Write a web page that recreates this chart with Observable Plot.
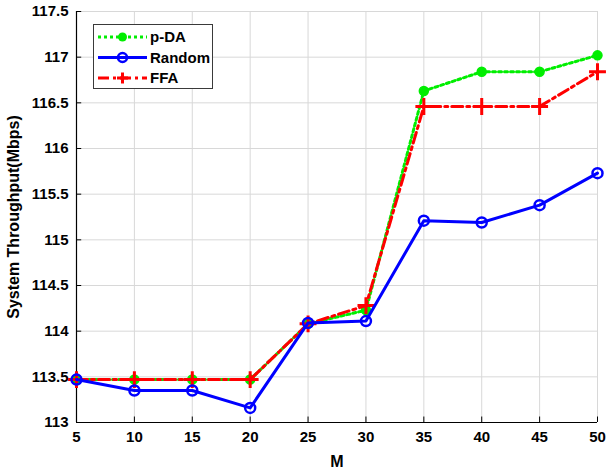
<!DOCTYPE html>
<html>
<head>
<meta charset="utf-8">
<script src="https://cdn.jsdelivr.net/npm/d3@7"></script>
<script src="https://cdn.jsdelivr.net/npm/@observablehq/plot@0.6"></script>
<style>
  html, body { margin: 0; padding: 0; background: #fff; }
  #wrap { position: relative; width: 607px; height: 472px; }
  #legend { position: absolute; left: 0; top: 0; }
  svg text { font-family: "Liberation Sans", Arial, sans-serif; font-weight: bold; }
</style>
</head>
<body>
<div id="wrap"></div>
<script>
const M = [5, 10, 15, 20, 25, 30, 35, 40, 45, 50];
const pDA    = [113.47, 113.47, 113.47, 113.47, 114.08, 114.23, 116.63, 116.84, 116.84, 117.02];
const Random = [113.47, 113.35, 113.35, 113.16, 114.09, 114.11, 115.21, 115.19, 115.38, 115.73];
const FFA    = [113.47, 113.47, 113.47, 113.47, 114.08, 114.28, 116.46, 116.46, 116.46, 116.84];
const xTicks = [5, 10, 15, 20, 25, 30, 35, 40, 45, 50];
const yTicks = [113, 113.5, 114, 114.5, 115, 115.5, 116, 116.5, 117, 117.5];
const seriesNames = ["p-DA", "Random", "FFA"];

const toRows = (vals) => M.map((m, i) => ({ m, v: vals[i] }));
const dPDA = toRows(pDA), dRand = toRows(Random), dFFA = toRows(FFA);

const green = "#00ee00", blue = "#0000ff", red = "#ff0000";
const fnt = '"Liberation Sans", Arial, sans-serif';

const W = 607, H = 472;
const chart = Plot.plot({
  width: W, height: H,
  marginLeft: 76, marginRight: 10, marginTop: 11, marginBottom: 50,
  style: { fontFamily: fnt, fontSize: "15px", fontWeight: "bold", background: "#fff" },
  x: { domain: [5, 50], ticks: xTicks, label: null },
  y: { domain: [113, 117.5], ticks: yTicks, label: null },
  marks: [
    Plot.gridX(xTicks, { stroke: "#d8d8d8", strokeOpacity: 1, strokeWidth: 1 }),
    Plot.gridY(yTicks, { stroke: "#d8d8d8", strokeOpacity: 1, strokeWidth: 1 }),
    // inward ticks
    Plot.ruleX(xTicks, { y1: 113, y2: 113 + 0.06, stroke: "#000", strokeWidth: 1 }),
    Plot.ruleY(yTicks, { x1: 5, x2: 5 + 0.45, stroke: "#000", strokeWidth: 1 }),
    Plot.ruleX([5], { stroke: "#000", strokeWidth: 1.2 }),
    Plot.ruleY([113], { stroke: "#000", strokeWidth: 1.2 }),
    Plot.axisX(xTicks, { tickSize: 0, tickPadding: 9, fontSize: 15, fontWeight: "bold", label: null }),
    Plot.axisX([], { tickSize: 0, fontSize: 16, fontWeight: "bold", label: "M", labelAnchor: "center", labelArrow: "none", labelOffset: 44 }),
    Plot.axisY(yTicks, { tickSize: 0, tickPadding: 8, fontSize: 15, fontWeight: "bold", tickFormat: d => String(d), label: null }),
    Plot.axisY([], { tickSize: 0, fontSize: 16, fontWeight: "bold", label: "System Throughput(Mbps)", labelAnchor: "center", labelArrow: "none", labelOffset: 69 }),
    // p-DA
    Plot.line(dPDA, { x: "m", y: "v", stroke: green, strokeWidth: 3, strokeDasharray: "3,3" }),
    Plot.dot(dPDA, { x: "m", y: "v", r: 4.5, fill: green, stroke: green }),
    // FFA
    Plot.line(dFFA, { x: "m", y: "v", stroke: red, strokeWidth: 3, strokeDasharray: "11,4,3,4" }),
    Plot.dot(dFFA, { x: "m", y: "v", symbol: "plus", r: 5.5, fill: "none", stroke: red, strokeWidth: 3 }),
    // Random
    Plot.line(dRand, { x: "m", y: "v", stroke: blue, strokeWidth: 3 }),
    Plot.dot(dRand, { x: "m", y: "v", r: 5, fill: "none", stroke: blue, strokeWidth: 2.5 })
  ]
});
document.getElementById("wrap").appendChild(chart);

// Legend overlay
const lg = d3.select("#wrap").append("svg")
  .attr("id", "legend").attr("width", W).attr("height", H);
const box = { x: 93.5, y: 24.5, w: 119, h: 64 };
lg.append("rect").attr("x", box.x).attr("y", box.y).attr("width", box.w).attr("height", box.h)
  .attr("fill", "#fff").attr("stroke", "#3a3a3a").attr("stroke-width", 1);
const styles = [
  { c: green, dash: "3,3", marker: "fill" },
  { c: blue, dash: null, marker: "open" },
  { c: red, dash: "11,4,3,4", marker: "plus" }
];
const rowsY = [37, 57.5, 78];
seriesNames.forEach((name, i) => {
  const s = styles[i], y = rowsY[i];
  const ln = lg.append("line").attr("x1", 98).attr("x2", 147).attr("y1", y).attr("y2", y)
    .attr("stroke", s.c).attr("stroke-width", 3);
  if (s.dash) ln.attr("stroke-dasharray", s.dash);
  if (s.marker === "fill") lg.append("circle").attr("cx", 122.5).attr("cy", y).attr("r", 4.5).attr("fill", s.c);
  if (s.marker === "open") lg.append("circle").attr("cx", 122.5).attr("cy", y).attr("r", 4.5).attr("fill", "none").attr("stroke", s.c).attr("stroke-width", 2.5);
  if (s.marker === "plus") {
    lg.append("line").attr("x1", 117).attr("x2", 128).attr("y1", y).attr("y2", y).attr("stroke", s.c).attr("stroke-width", 3);
    lg.append("line").attr("x1", 122.5).attr("x2", 122.5).attr("y1", y - 5.5).attr("y2", y + 5.5).attr("stroke", s.c).attr("stroke-width", 3);
  }
  lg.append("text").attr("x", 150).attr("y", y).attr("dy", "0.35em")
    .attr("font-size", 15).attr("fill", "#000").text(name);
});
</script>
</body>
</html>
